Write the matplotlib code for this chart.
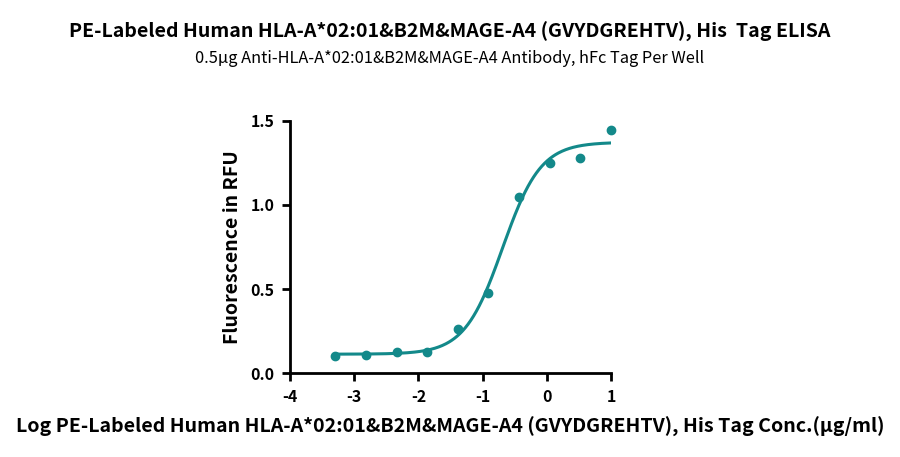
import numpy as np
import matplotlib
matplotlib.use("Agg")
import matplotlib.pyplot as plt

plt.rcParams['font.family'] = ['Noto Sans CJK SC', 'DejaVu Sans']
plt.rcParams['axes.unicode_minus'] = False

# dati: 10 ug/ml, diluizioni 1:3
conc = [10.0, 3.333, 1.111, 0.3704, 0.1235, 0.04115, 0.01372, 0.004572, 0.001524, 0.000508]
signal = [1.443, 1.278, 1.247, 1.047, 0.479, 0.263, 0.127, 0.125, 0.111, 0.103]

x_ticks = [-4, -3, -2, -1, 0, 1]
y_ticks = [0.0, 0.5, 1.0, 1.5]

title = "PE-Labeled Human HLA-A*02:01&B2M&MAGE-A4 (GVYDGREHTV), His  Tag ELISA"
subtitle = "0.5μg Anti-HLA-A*02:01&B2M&MAGE-A4 Antibody, hFc Tag Per Well"
xlabel = "Log PE-Labeled Human HLA-A*02:01&B2M&MAGE-A4 (GVYDGREHTV), His Tag Conc.(μg/ml)"
ylabel = "Fluorescence in RFU"

color = "#13898a"

logx = np.log10(conc)
y = np.array(signal)


def fit_4pl(lx, yy):
    # ricerca a griglia su EC50 e pendenza, bottom/top con minimi quadrati lineari
    best = None
    for c in np.linspace(-1.5, 0.0, 151):
        for h in np.linspace(0.5, 3.0, 126):
            f = 1.0 / (1.0 + 10 ** ((c - lx) * h))
            A = np.column_stack([1 - f, f])
            coef, *_ = np.linalg.lstsq(A, yy, rcond=None)
            err = np.sum((A @ coef - yy) ** 2)
            if best is None or err < best[0]:
                best = (err, coef[0], coef[1], c, h)
    return best[1:]


bottom, top, ec50, hill = fit_4pl(logx, y)
xs = np.linspace(logx.min(), logx.max(), 300)
ys = bottom + (top - bottom) / (1.0 + 10 ** ((ec50 - xs) * hill))

fig = plt.figure(figsize=(9, 4.57), dpi=100)
ax = fig.add_axes([0.3222, 0.1832, 0.3567, 0.5527])

ax.plot(xs, ys, color=color, lw=2.2, zorder=2)
ax.scatter(logx, y, s=36, color=color, zorder=3, clip_on=False)

ax.set_xlim(-4, 1)
ax.set_ylim(0, 1.5)
ax.set_xticks(x_ticks)
ax.set_yticks(y_ticks)
ax.set_yticklabels([f"{v:.1f}" for v in y_ticks])

for s in ["top", "right"]:
    ax.spines[s].set_visible(False)
for s in ["left", "bottom"]:
    ax.spines[s].set_linewidth(2)
ax.tick_params(width=2, length=6, labelsize=11.5, pad=5)
for lab in ax.get_xticklabels() + ax.get_yticklabels():
    lab.set_fontweight("bold")

ax.set_ylabel(ylabel, fontsize=14, fontweight="bold", labelpad=6)
fig.text(0.5, 0.066, xlabel, ha="center", va="center", fontsize=14.1, fontweight="bold")
fig.text(0.5, 0.93, title, ha="center", va="center", fontsize=14.1, fontweight="bold")
fig.text(0.5, 0.873, subtitle, ha="center", va="center", fontsize=11.8)

fig.savefig("out.png", dpi=100)
